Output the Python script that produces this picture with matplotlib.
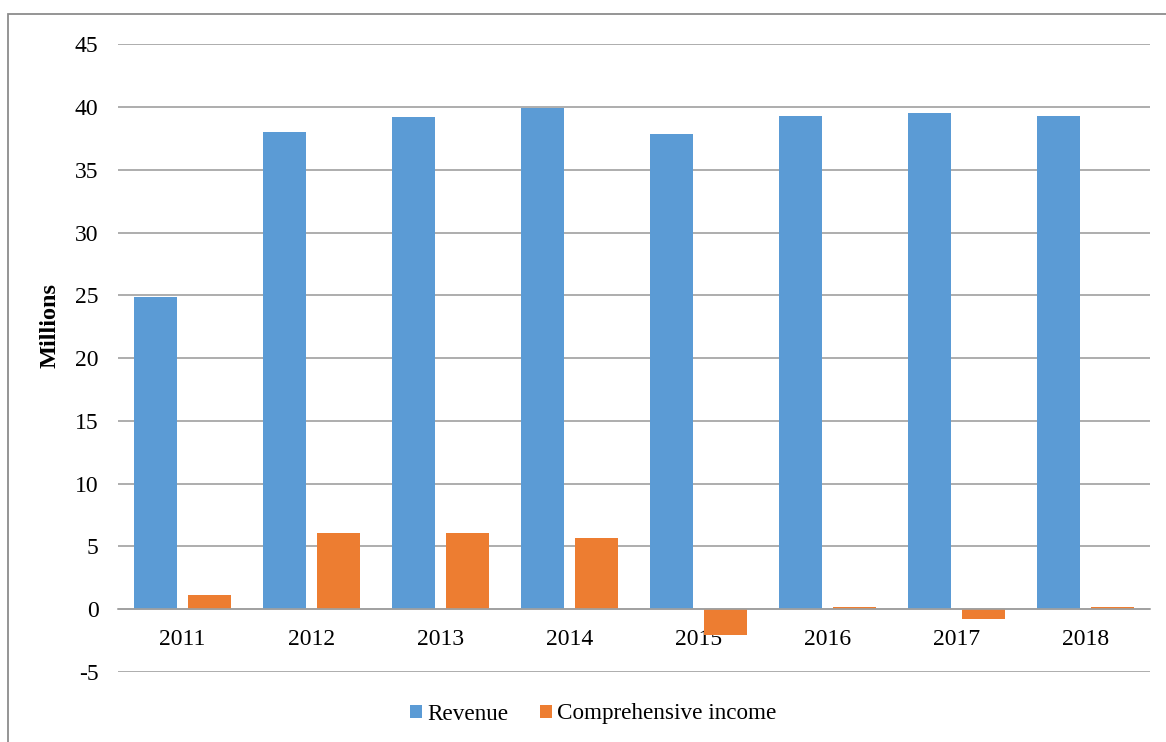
import matplotlib.pyplot as plt
import numpy as np
from matplotlib.patches import Rectangle
from matplotlib.ticker import FuncFormatter

# Yearly figures, in millions
years = ["2011", "2012", "2013", "2014", "2015", "2016", "2017", "2018"]
revenue = [24.85, 38.0, 39.2, 39.95, 37.85, 39.3, 39.5, 39.3]
comprehensive_income = [1.15, 6.05, 6.05, 5.65, -2.05, 0.15, -0.75, 0.15]

BLUE = "#5B9BD5"
ORANGE = "#ED7D31"
GRID = "#A0A0A0"

plt.rcParams["font.family"] = ["Liberation Serif", "DejaVu Serif"]

fig = plt.figure(figsize=(11.66, 7.42), dpi=100)
W, H = 1166, 742
ax = fig.add_axes([118 / W, 1 - 672 / H, (1150 - 118) / W, (672 - 44.3) / H])

x = np.arange(len(years))
width = 0.333
offset = 0.207
ax.bar(x - offset, revenue, width, color=BLUE, label="Revenue", zorder=3)
ax.bar(x + offset, comprehensive_income, width, color=ORANGE,
       label="Comprehensive income", zorder=3)

ax.set_xlim(-0.5, len(years) - 0.5)
ax.set_ylim(-5, 45)
ax.set_yticks(np.arange(-5, 46, 5))
ax.yaxis.set_major_formatter(FuncFormatter(lambda v, _: f"{v:.0f}".replace("\u2212", "-")))
ax.set_xticks(x)
ax.set_xticklabels(years)
ax.yaxis.grid(True, color=GRID, linewidth=1.2, zorder=0)

# category axis sits on the zero line
for side in ["top", "left", "right"]:
    ax.spines[side].set_visible(False)
ax.spines["bottom"].set_position(("data", 0))
ax.spines["bottom"].set_color(GRID)
ax.spines["bottom"].set_linewidth(1.2)
ax.spines["bottom"].set_zorder(4)

ax.tick_params(axis="both", length=0, labelsize=17)
ax.tick_params(axis="y", pad=14)
ax.tick_params(axis="x", pad=14)

fig.text(50 / W, 1 - 326 / H, "Millions", rotation=90, fontsize=17.5,
         fontweight="bold", ha="center", va="center")

fig.legend(loc="center", bbox_to_anchor=(593 / W, 1 - 714 / H), ncol=2,
           frameon=False, fontsize=16.7, handlelength=0.52, handleheight=0.52,
           handletextpad=0.22, columnspacing=1.35)

# chart frame
fig.patches.append(Rectangle((8 / W, -0.1), 1.2, 1 - 14 / H + 0.1,
                             transform=fig.transFigure, fill=False,
                             edgecolor="#8C8C8C", linewidth=1.3))

fig.savefig("out.png", dpi=100)
